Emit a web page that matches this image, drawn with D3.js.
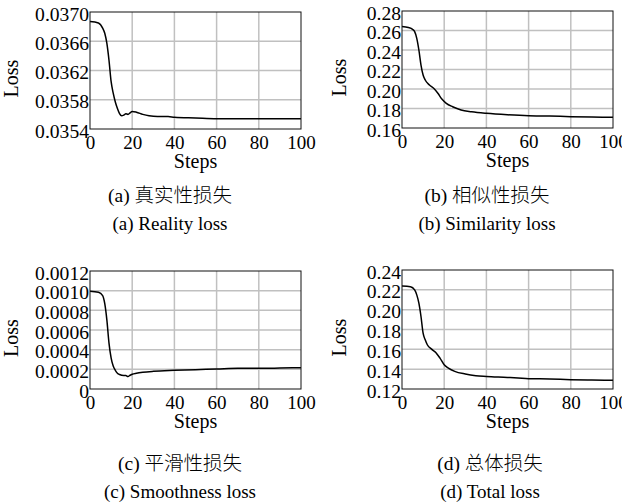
<!DOCTYPE html>
<html>
<head>
<meta charset="utf-8">
<script src="https://cdn.jsdelivr.net/npm/d3@7"></script>
<style>
  body { margin: 0; background: #fff; }
  text { font-family: "Liberation Serif", "Noto Sans CJK SC", serif; fill: #000; }
</style>
</head>
<body>
<div id="chart"></div>
<script>
var svgWidth = 622;
var svgHeight = 504;

// x ticks shared by all four panels
var xTicks = [0, 20, 40, 60, 80, 100];

// (a) reality loss
var stepsA = [0, 4, 6, 7, 8, 9, 10, 11, 12, 13, 14, 15, 16, 17, 18, 19, 20, 22, 25, 28, 32, 37, 40, 50, 60, 70, 80, 90, 100];
var lossA = [0.03687, 0.03685, 0.03678, 0.03671, 0.03657, 0.03634, 0.03605, 0.03589, 0.03577, 0.03568, 0.03561, 0.03558, 0.03559, 0.03561, 0.03560, 0.03562, 0.03564, 0.03563, 0.03560, 0.03558, 0.03557, 0.03557, 0.03556, 0.03555, 0.03554, 0.03554, 0.03554, 0.03554, 0.03554];
var yTicksA = [0.0354, 0.0358, 0.0362, 0.0366, 0.0370];

// (b) similarity loss
var stepsB = [0, 3, 5, 6, 7, 8, 9, 10, 11, 13, 15, 17, 19, 21, 24, 28, 33, 40, 50, 60, 70, 80, 90, 100];
var lossB = [0.2640, 0.2630, 0.2612, 0.2588, 0.2520, 0.2400, 0.2246, 0.2144, 0.2092, 0.2041, 0.2007, 0.1956, 0.1894, 0.1853, 0.1818, 0.1785, 0.1767, 0.1751, 0.1736, 0.1726, 0.1723, 0.1716, 0.1713, 0.1710];
var yTicksB = [0.16, 0.18, 0.20, 0.22, 0.24, 0.26, 0.28];

// (c) smoothness loss
var stepsC = [0, 4, 6, 7, 8, 9, 10, 11, 12, 13, 14, 16, 17, 18, 19, 20, 22, 25, 30, 40, 50, 60, 70, 80, 90, 100];
var lossC = [0.000993, 0.000983, 0.000950, 0.000867, 0.000700, 0.000467, 0.000317, 0.000233, 0.000190, 0.000160, 0.000147, 0.000137, 0.000137, 0.000127, 0.000140, 0.000150, 0.000160, 0.000170, 0.000180, 0.000190, 0.000197, 0.000203, 0.000210, 0.000210, 0.000213, 0.000217];
var yTicksC = [0, 0.0002, 0.0004, 0.0006, 0.0008, 0.0010, 0.0012];

// (d) total loss
var stepsD = [0, 4, 6, 7, 8, 9, 10, 11, 12, 14, 16, 18, 20, 22, 25, 30, 35, 40, 50, 55, 60, 70, 80, 90, 100];
var lossD = [0.2239, 0.2232, 0.2199, 0.2149, 0.2065, 0.1931, 0.1763, 0.1696, 0.1646, 0.1602, 0.1569, 0.1512, 0.1445, 0.1411, 0.1378, 0.1351, 0.1334, 0.1327, 0.1317, 0.1311, 0.1304, 0.1301, 0.1294, 0.1291, 0.1287];
var yTicksD = [0.12, 0.14, 0.16, 0.18, 0.20, 0.22, 0.24];

var captionsZh = ["(a) 真实性损失", "(b) 相似性损失", "(c) 平滑性损失", "(d) 总体损失"];
var captionsEn = ["(a) Reality loss", "(b) Similarity loss", "(c) Smoothness loss", "(d) Total loss"];

var svg = d3.select("#chart")
    .append("svg")
    .attr("width", svgWidth)
    .attr("height", svgHeight);

svg.append("rect")
    .attr("width", svgWidth)
    .attr("height", svgHeight)
    .attr("fill", "#fff");

var panels = [
    {left: 90, top: 12, w: 211, h: 117, steps: stepsA, loss: lossA, yTicks: yTicksA, fmt: d3.format(".4f"), cx: 170, capY: 202},
    {left: 402, top: 11, w: 211, h: 117, steps: stepsB, loss: lossB, yTicks: yTicksB, fmt: d3.format(".2f"), cx: 487, capY: 202},
    {left: 90, top: 271, w: 211, h: 118, steps: stepsC, loss: lossC, yTicks: yTicksC, fmt: function(d) { return d === 0 ? "0" : d3.format(".4f")(d); }, cx: 180, capY: 470},
    {left: 402, top: 270, w: 211, h: 119, steps: stepsD, loss: lossD, yTicks: yTicksD, fmt: d3.format(".2f"), cx: 490, capY: 470}
];

panels.forEach(function(p, i) {
    var g = svg.append("g")
        .attr("transform", `translate(${p.left}, ${p.top})`);

    var xScale = d3.scaleLinear().domain([0, 100]).range([0, p.w]);
    var yScale = d3.scaleLinear()
        .domain([p.yTicks[0], p.yTicks[p.yTicks.length - 1]])
        .range([p.h, 0]);

    // grid
    g.append("g")
        .selectAll("line")
        .data(xTicks.slice(1, -1))
        .enter()
        .append("line")
        .attr("x1", d => xScale(d))
        .attr("x2", d => xScale(d))
        .attr("y1", 0)
        .attr("y2", p.h)
        .attr("stroke", "#c0c0c0")
        .attr("stroke-width", 1.5);

    g.append("g")
        .selectAll("line")
        .data(p.yTicks.slice(1, -1))
        .enter()
        .append("line")
        .attr("x1", 0)
        .attr("x2", p.w)
        .attr("y1", d => yScale(d))
        .attr("y2", d => yScale(d))
        .attr("stroke", "#c0c0c0")
        .attr("stroke-width", 1.5);

    // curve
    var line = d3.line()
        .x(d => xScale(d[0]))
        .y(d => yScale(d[1]))
        .curve(d3.curveMonotoneX);

    g.append("path")
        .datum(d3.zip(p.steps, p.loss))
        .attr("d", line)
        .attr("fill", "none")
        .attr("stroke", "#000")
        .attr("stroke-width", 1.5);

    // frame
    g.append("rect")
        .attr("x", 0)
        .attr("y", 0)
        .attr("width", p.w)
        .attr("height", p.h)
        .attr("fill", "none")
        .attr("stroke", "#111")
        .attr("stroke-width", 1);

    // x axis labels
    var xAxis = g.append("g")
        .attr("transform", `translate(0, ${p.h})`)
        .call(d3.axisBottom(xScale).tickValues(xTicks).tickSize(0).tickPadding(0));
    xAxis.select(".domain").remove();
    xAxis.selectAll("text")
        .attr("y", 20)
        .attr("dy", 0)
        .attr("font-size", "19px")
        .attr("font-family", "Liberation Serif");

    // y axis labels
    var yAxis = g.append("g")
        .call(d3.axisLeft(yScale).tickValues(p.yTicks).tickFormat(p.fmt).tickSize(0).tickPadding(0));
    yAxis.select(".domain").remove();
    yAxis.selectAll(".tick text")
        .attr("x", 0)
        .attr("dy", 0)
        .attr("y", 0)
        .attr("transform", "translate(-1, 8) scale(1.06, 1)")
        .attr("text-anchor", "end")
        .attr("font-size", "18.5px")
        .attr("font-family", "Liberation Serif");

    g.append("text")
        .attr("x", p.w / 2)
        .attr("y", p.h + 39)
        .attr("text-anchor", "middle")
        .attr("font-size", "20px")
        .text("Steps");

    g.append("text")
        .attr("transform", `translate(${i % 2 === 0 ? -72 : -56}, ${p.h / 2 + 8}) rotate(-90)`)
        .attr("text-anchor", "middle")
        .attr("font-size", "20px")
        .text("Loss");

    // captions
    svg.append("text")
        .attr("x", p.cx)
        .attr("y", p.capY)
        .attr("text-anchor", "middle")
        .attr("font-size", "19.5px")
        .attr("font-weight", 300)
        .text(captionsZh[i]);

    svg.append("text")
        .attr("x", p.cx)
        .attr("y", p.capY + 28)
        .attr("text-anchor", "middle")
        .attr("font-size", "19px")
        .text(captionsEn[i]);
});
</script>
</body>
</html>
